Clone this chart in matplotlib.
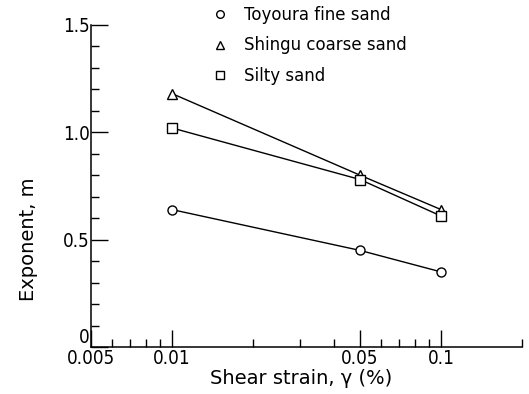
import matplotlib
matplotlib.use("Agg")
import matplotlib.pyplot as plt
from matplotlib.ticker import FixedLocator, NullFormatter

strain = [0.01, 0.05, 0.1]
toyoura = [0.64, 0.45, 0.35]
shingu = [1.18, 0.80, 0.64]
silty = [1.02, 0.78, 0.61]

xticks = [0.005, 0.01, 0.05, 0.1]
xlabels = ["0.005", "0.01", "0.05", "0.1"]
xminor = [0.006, 0.007, 0.008, 0.009, 0.02, 0.03, 0.04,
          0.06, 0.07, 0.08, 0.09, 0.2]
yticks = [0, 0.5, 1.0, 1.5]
ylabels = ["0", "0.5", "1.0", "1.5"]

plt.rcParams["font.family"] = "DejaVu Sans"

fig = plt.figure(figsize=(5.29, 3.94), dpi=100)
ax = fig.add_axes([0.172, 0.119, 0.815, 0.818])

style = dict(color="black", lw=1.0, mfc="white", mec="black", mew=1.0, ms=6.5)
ax.plot(strain, toyoura, marker="o", label="Toyoura fine sand", **style)
ax.plot(strain, shingu, marker="^", label="Shingu coarse sand", **style)
ax.plot(strain, silty, marker="s", label="Silty sand", **style)

ax.set_xscale("log")
ax.set_xlim(0.005, 0.2)
ax.set_ylim(0, 1.5)

ax.xaxis.set_major_locator(FixedLocator(xticks))
ax.set_xticklabels(xlabels, fontsize=13.5, fontstretch="condensed")
ax.xaxis.set_minor_locator(FixedLocator(xminor))
ax.xaxis.set_minor_formatter(NullFormatter())
ax.set_yticks(yticks)
ax.set_yticklabels(ylabels, fontsize=13.5, fontstretch="condensed")
ax.set_yticks([i / 10 for i in range(16)], minor=True)
# the "0" sits just above the corner, like the original
ax.get_yticklabels()[0].set_va("bottom")

ax.tick_params(which="major", direction="in", length=12, width=1.0)
ax.tick_params(axis="y", which="major", pad=1)
ax.tick_params(axis="x", which="major", pad=1)
ax.tick_params(which="minor", direction="in", length=6, width=1.0)

for s in ["top", "right"]:
    ax.spines[s].set_visible(False)
for s in ["left", "bottom"]:
    ax.spines[s].set_linewidth(1.1)

ax.set_xlabel("Shear strain, γ (%)", fontsize=14, va="top")
ax.xaxis.set_label_coords(0.487, -0.068)
ax.set_ylabel("Exponent, m", fontsize=14, va="center")
ax.yaxis.set_label_coords(-0.146, 0.335)

handles, labels = ax.get_legend_handles_labels()
leg_handles = []
for h in handles:
    leg_handles.append(plt.Line2D([], [], linestyle="none", marker=h.get_marker(),
                                  mfc="white", mec="black", mew=1.0, ms=5.5))
fig.legend(leg_handles, labels, loc="upper left",
           bbox_to_anchor=(212 / 529, 1 - 6 / 394), frameon=False,
           borderpad=0, borderaxespad=0,
           fontsize=12, handlelength=1.0, handletextpad=0.95, labelspacing=0.75)

fig.savefig("out.png", dpi=100)
